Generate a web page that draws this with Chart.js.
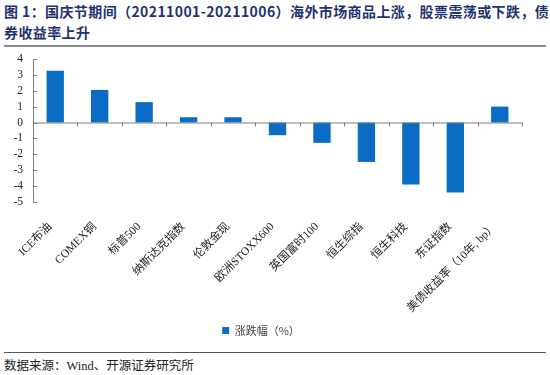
<!DOCTYPE html>
<html>
<head>
<meta charset="utf-8">
<script src="https://cdn.jsdelivr.net/npm/chart.js@4"></script>
<style>
  body { margin: 0; width: 550px; height: 375px; background: #fff; position: relative; overflow: hidden; }
  #title { position: absolute; left: 4px; top: 1px; width: 546px; font-family: "Noto Sans CJK SC", sans-serif; font-weight: bold; font-size: 14px; line-height: 21px; color: #1f3370; letter-spacing: 0.4px; }
  #rule1 { position: absolute; left: 4px; right: 4px; top: 45px; height: 2px; background: #8c8c8c; }
  #rule2 { position: absolute; left: 4px; right: 4px; top: 352px; height: 1px; background: #555; }
  #source { position: absolute; left: 4px; top: 355px; font-family: "Liberation Serif", "Noto Sans CJK SC", serif; font-size: 12.5px; color: #222; }
  #wrap { position: absolute; left: 0; top: 42px; width: 550px; height: 304px; }
</style>
</head>
<body>
<div id="title">图 1：国庆节期间（20211001-20211006）海外市场商品上涨，股票震荡或下跌，债券收益率上升</div>
<div id="rule1"></div>
<div id="wrap"><canvas id="chart"></canvas></div>
<div id="rule2"></div>
<div id="source">数据来源：Wind、开源证券研究所</div>
<script>
const categories = ['ICE布油', 'COMEX铜', '标普500', '纳斯达克指数', '伦敦金现', '欧洲STOXX600', '英国富时100', '恒生综指', '恒生科技', '东证指数', '美债收益率（10年, bp）'];
const changes = [3.25, 2.05, 1.28, 0.33, 0.33, -0.8, -1.28, -2.48, -3.9, -4.4, 1.0];
const yTicks = [4, 3, 2, 1, 0, -1, -2, -3, -4, -5];

const labelFont = { family: '"Liberation Serif", "Noto Sans CJK SC", serif', size: 11.5 };

// zero line plus small tick marks, drawn like the original
const axisMarks = {
    id: 'axisMarks',
    afterDatasetsDraw(chart) {
        const { ctx, chartArea, scales } = chart;
        const y = scales.y;
        const y0 = y.getPixelForValue(0);
        ctx.save();
        ctx.strokeStyle = '#7f7f7f';
        ctx.lineWidth = 1;
        ctx.beginPath();
        ctx.moveTo(chartArea.left, y0 + 0.5);
        ctx.lineTo(chartArea.right, y0 + 0.5);
        ctx.moveTo(chartArea.left + 0.5, chartArea.top);
        ctx.lineTo(chartArea.left + 0.5, chartArea.bottom);
        yTicks.forEach(v => {
            const py = Math.round(y.getPixelForValue(v)) + 0.5;
            ctx.moveTo(chartArea.left, py);
            ctx.lineTo(chartArea.left + 4, py);
        });
        const step = (chartArea.right - chartArea.left) / categories.length;
        for (let i = 1; i <= categories.length; i++) {
            const px = Math.round(chartArea.left + step * i) + 0.5;
            ctx.moveTo(px, y0);
            ctx.lineTo(px, y0 + 4);
        }
        ctx.stroke();
        ctx.restore();
    }
};

new Chart(document.getElementById('chart'), {
    type: 'bar',
    data: {
        labels: categories,
        datasets: [{
            label: '涨跌幅（%）',
            data: changes,
            backgroundColor: '#0a6cc2',
            categoryPercentage: 1,
            barPercentage: 0.39
        }]
    },
    options: {
        responsive: true,
        maintainAspectRatio: false,
        animation: false,
        layout: { padding: { top: 0, left: 0, right: 28, bottom: 0 } },
        plugins: {
            legend: {
                position: 'bottom',
                labels: { boxWidth: 7, boxHeight: 7, padding: 8, color: '#444', font: { family: '"Noto Sans CJK SC", sans-serif', size: 11 } }
            },
            tooltip: { enabled: false }
        },
        scales: {
            x: {
                grid: { display: false, drawTicks: false },
                border: { display: false },
                ticks: { color: '#222', font: labelFont, maxRotation: 45, minRotation: 45, padding: 18, labelOffset: -5, autoSkip: false },
                afterFit(scale) { scale.height = 115; }
            },
            y: {
                min: -5, max: 4,
                grid: { display: false, drawTicks: false },
                border: { display: false },
                ticks: { stepSize: 1, color: '#222', font: labelFont, padding: 10, autoSkip: false },
                afterFit(scale) { scale.width = 33; }
            }
        }
    },
    plugins: [axisMarks]
});
</script>
</body>
</html>
